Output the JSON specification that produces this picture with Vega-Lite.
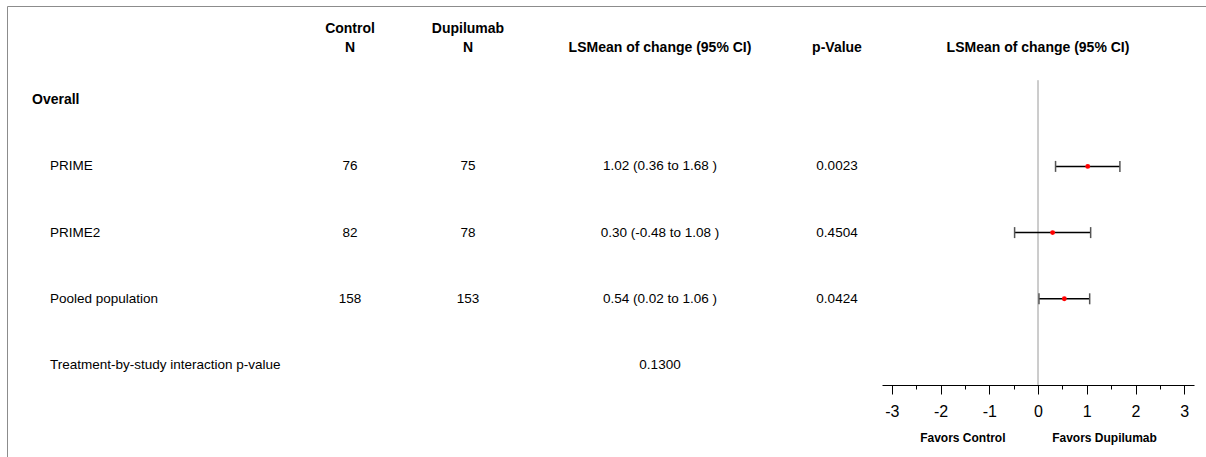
{
  "$schema": "https://vega.github.io/schema/vega-lite/v6.json",
  "width": 1199,
  "height": 451,
  "autosize": {"type": "none"},
  "padding": {"left": 7, "top": 6, "right": 0, "bottom": 0},
  "config": {
    "view": {"stroke": "#8c8c8c", "strokeWidth": 1},
    "font": "Liberation Sans",
    "text": {"font": "Liberation Sans", "color": "#000000"}
  },
  "datasets": {
    "rows": [
      {"label": "Overall"},
      {"label": "PRIME", "nControl": 76, "nDupilumab": 75, "result": "1.02 (0.36 to 1.68 )", "p": "0.0023", "est": 1.02, "lo": 0.36, "hi": 1.68},
      {"label": "PRIME2", "nControl": 82, "nDupilumab": 78, "result": "0.30 (-0.48 to 1.08 )", "p": "0.4504", "est": 0.30, "lo": -0.48, "hi": 1.08},
      {"label": "Pooled population", "nControl": 158, "nDupilumab": 153, "result": "0.54 (0.02 to 1.06 )", "p": "0.0424", "est": 0.54, "lo": 0.02, "hi": 1.06},
      {"label": "Treatment-by-study interaction p-value", "result": "0.1300"}
    ]
  },
  "data": {"name": "rows"},
  "layer": [
    {
      "layer": [
        {
          "transform": [{"filter": "datum.label !== 'Overall'"}],
          "mark": {"type": "text", "align": "left", "baseline": "middle", "fontSize": 13.5},
          "encoding": {
            "x": {"datum": 0, "type": "quantitative", "axis": null,
                  "scale": {"type": "linear", "domain": [0, 1, 2, 3, 4, 5], "range": [43, 343, 461, 653, 830, 1031], "nice": false, "zero": false}},
            "y": {"field": "label", "type": "nominal", "axis": null,
                  "scale": {"type": "point", "domain": ["header", "Overall", "PRIME", "PRIME2", "Pooled population", "Treatment-by-study interaction p-value"], "range": [28, 359], "padding": 0}},
            "text": {"field": "label", "type": "nominal"}
          }
        },
        {
          "transform": [{"filter": "datum.label === 'Overall'"}],
          "mark": {"type": "text", "align": "left", "baseline": "middle", "fontSize": 14, "fontWeight": "bold", "dx": -18},
          "encoding": {
            "x": {"datum": 0, "type": "quantitative"},
            "y": {"field": "label", "type": "nominal"},
            "text": {"field": "label", "type": "nominal"}
          }
        },
        {
          "transform": [{"filter": "isValid(datum.nControl)"}],
          "mark": {"type": "text", "align": "center", "baseline": "middle", "fontSize": 13.5},
          "encoding": {
            "x": {"datum": 1, "type": "quantitative"},
            "y": {"field": "label", "type": "nominal"},
            "text": {"field": "nControl", "type": "quantitative"}
          }
        },
        {
          "transform": [{"filter": "isValid(datum.nDupilumab)"}],
          "mark": {"type": "text", "align": "center", "baseline": "middle", "fontSize": 13.5},
          "encoding": {
            "x": {"datum": 2, "type": "quantitative"},
            "y": {"field": "label", "type": "nominal"},
            "text": {"field": "nDupilumab", "type": "quantitative"}
          }
        },
        {
          "transform": [{"filter": "isValid(datum.result)"}],
          "mark": {"type": "text", "align": "center", "baseline": "middle", "fontSize": 13.5},
          "encoding": {
            "x": {"datum": 3, "type": "quantitative"},
            "y": {"field": "label", "type": "nominal"},
            "text": {"field": "result", "type": "nominal"}
          }
        },
        {
          "transform": [{"filter": "isValid(datum.p)"}],
          "mark": {"type": "text", "align": "center", "baseline": "middle", "fontSize": 13.5},
          "encoding": {
            "x": {"datum": 4, "type": "quantitative"},
            "y": {"field": "label", "type": "nominal"},
            "text": {"field": "p", "type": "nominal"}
          }
        },
        {
          "data": {"values": [{"heading": ["Control", "N"]}]},
          "mark": {"type": "text", "align": "center", "baseline": "bottom", "fontSize": 14, "fontWeight": "bold", "lineHeight": 19, "dy": 2},
          "encoding": {
            "x": {"datum": 1, "type": "quantitative"},
            "y": {"datum": "header", "type": "nominal"},
            "text": {"field": "heading"}
          }
        },
        {
          "data": {"values": [{"heading": ["Dupilumab", "N"]}]},
          "mark": {"type": "text", "align": "center", "baseline": "bottom", "fontSize": 14, "fontWeight": "bold", "lineHeight": 19, "dy": 2},
          "encoding": {
            "x": {"datum": 2, "type": "quantitative"},
            "y": {"datum": "header", "type": "nominal"},
            "text": {"field": "heading"}
          }
        },
        {
          "data": {"values": [{"heading": "LSMean of change (95% CI)"}]},
          "mark": {"type": "text", "align": "center", "baseline": "bottom", "fontSize": 14, "fontWeight": "bold", "dy": 21},
          "encoding": {
            "x": {"datum": 3, "type": "quantitative"},
            "y": {"datum": "header", "type": "nominal"},
            "text": {"field": "heading"}
          }
        },
        {
          "data": {"values": [{"heading": "p-Value"}]},
          "mark": {"type": "text", "align": "center", "baseline": "bottom", "fontSize": 14, "fontWeight": "bold", "dy": 21},
          "encoding": {
            "x": {"datum": 4, "type": "quantitative"},
            "y": {"datum": "header", "type": "nominal"},
            "text": {"field": "heading"}
          }
        },
        {
          "data": {"values": [{"heading": "LSMean of change (95% CI)"}]},
          "mark": {"type": "text", "align": "center", "baseline": "bottom", "fontSize": 14, "fontWeight": "bold", "dy": 21},
          "encoding": {
            "x": {"datum": 5, "type": "quantitative"},
            "y": {"datum": "header", "type": "nominal"},
            "text": {"field": "heading"}
          }
        }
      ]
    },
    {
      "layer": [
        {
          "data": {"values": [{}]},
          "mark": {"type": "rule", "color": "#9a9a9a", "strokeWidth": 1, "yOffset": -20, "y2Offset": 20},
          "encoding": {
            "x": {"datum": 0, "type": "quantitative",
                  "scale": {"domain": [-3.2, 3.2], "range": [875, 1187], "nice": false, "zero": false},
                  "axis": {
                    "orient": "bottom",
                    "offset": -72,
                    "grid": false,
                    "values": [-3, -2.5, -2, -1.5, -1, -0.5, 0, 0.5, 1, 1.5, 2, 2.5, 3],
                    "domainColor": "#000000",
                    "domainWidth": 1,
                    "tickColor": "#000000",
                    "tickWidth": 1,
                    "tickSize": {"condition": {"test": "datum.value % 1 === 0", "value": 9}, "value": 4},
                    "labelExpr": "datum.value % 1 === 0 ? '' + datum.value : ''",
                    "labelFont": "Liberation Sans",
                    "labelFontSize": 16,
                    "labelColor": "#000000",
                    "labelPadding": 9,
                    "labelOverlap": false,
                    "title": "Favors Control\u00a0\u00a0\u00a0\u00a0\u00a0\u00a0\u00a0\u00a0\u00a0\u00a0\u00a0\u00a0\u00a0\u00a0Favors Dupilumab",
                    "titleFont": "Liberation Sans",
                    "titleFontSize": 12,
                    "titleFontWeight": "bold",
                    "titleColor": "#000000",
                    "titleY": 52,
                    "titleBaseline": "middle"
                  }},
            "y": {"datum": "Overall", "type": "nominal"},
            "y2": {"datum": "Treatment-by-study interaction p-value"}
          }
        },
        {
          "transform": [{"filter": "isValid(datum.est)"}],
          "mark": {"type": "rule", "color": "#000000", "strokeWidth": 1.5},
          "encoding": {
            "x": {"field": "lo", "type": "quantitative"},
            "x2": {"field": "hi"},
            "y": {"field": "label", "type": "nominal"}
          }
        },
        {
          "transform": [{"filter": "isValid(datum.est)"}],
          "mark": {"type": "tick", "color": "#555555", "size": 11, "thickness": 1.5, "opacity": 1},
          "encoding": {
            "x": {"field": "lo", "type": "quantitative"},
            "y": {"field": "label", "type": "nominal"}
          }
        },
        {
          "transform": [{"filter": "isValid(datum.est)"}],
          "mark": {"type": "tick", "color": "#555555", "size": 11, "thickness": 1.5, "opacity": 1},
          "encoding": {
            "x": {"field": "hi", "type": "quantitative"},
            "y": {"field": "label", "type": "nominal"}
          }
        },
        {
          "transform": [{"filter": "isValid(datum.est)"}],
          "mark": {"type": "circle", "color": "#ff0000", "size": 24, "opacity": 1},
          "encoding": {
            "x": {"field": "est", "type": "quantitative"},
            "y": {"field": "label", "type": "nominal"}
          }
        }
      ]
    }
  ],
  "resolve": {"scale": {"x": "independent"}, "axis": {"x": "independent"}}
}
